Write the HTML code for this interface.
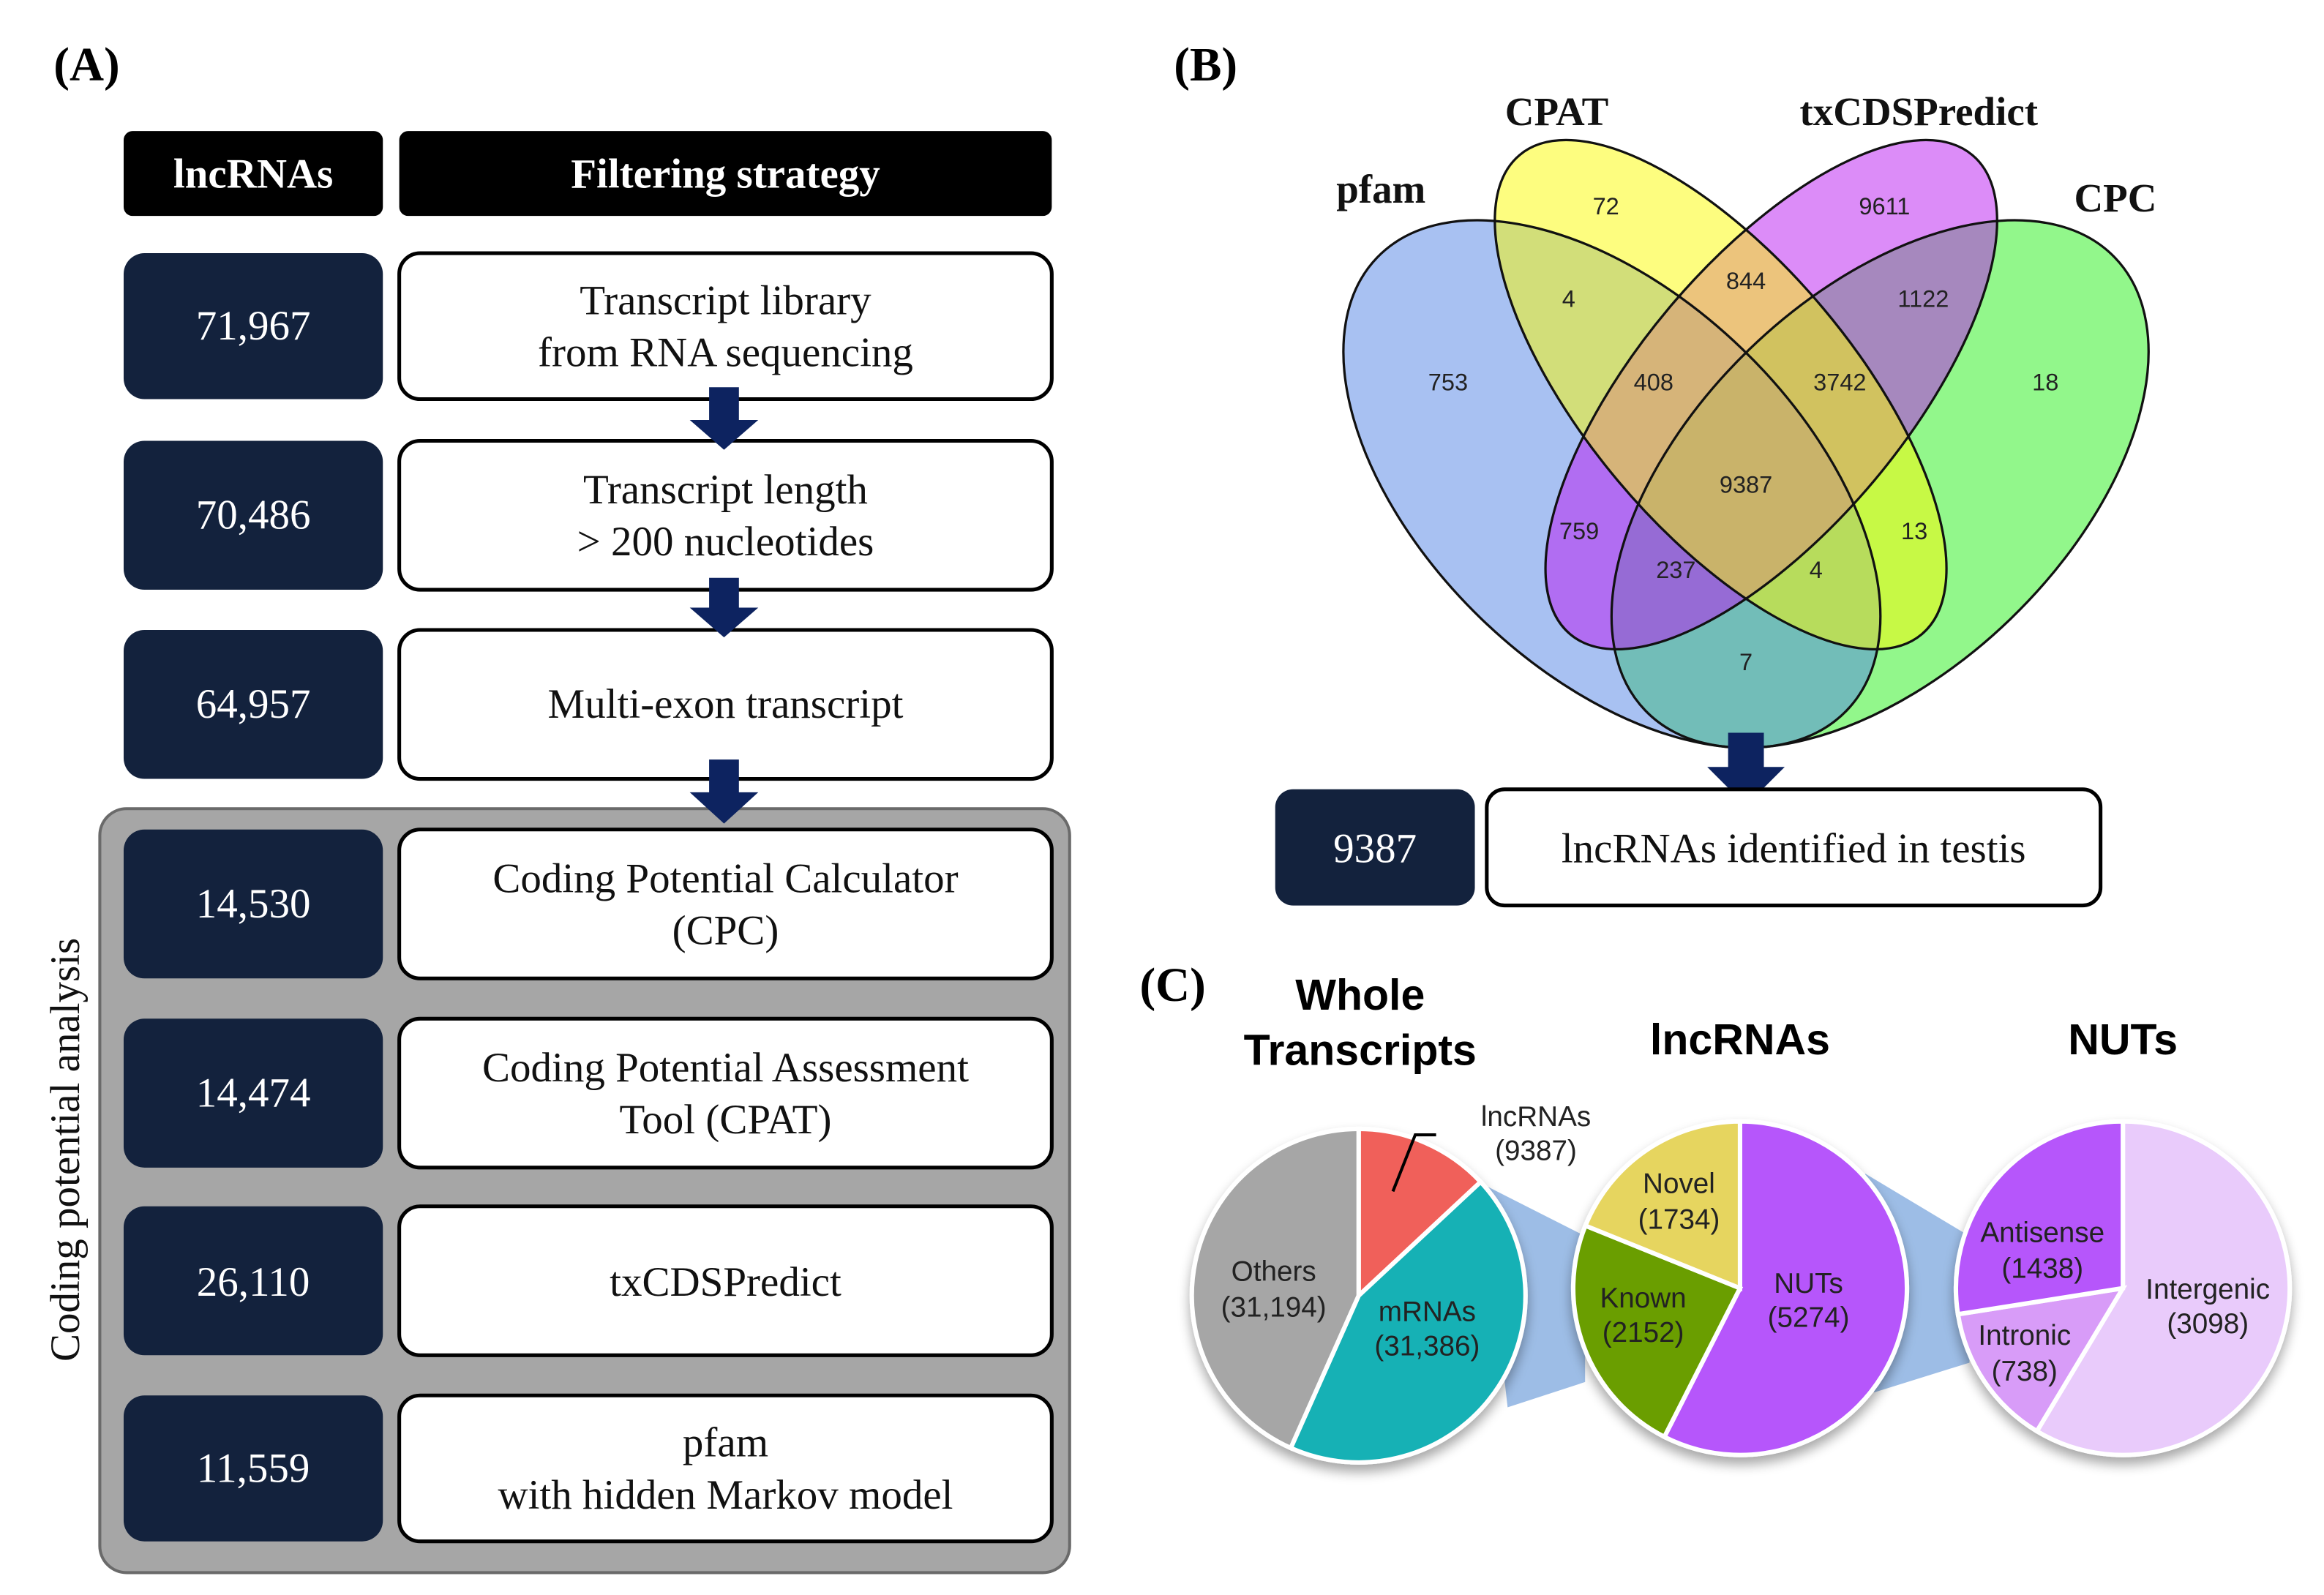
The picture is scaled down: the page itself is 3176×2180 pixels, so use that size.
<!DOCTYPE html>
<html><head><meta charset="utf-8"><style>html,body{margin:0;padding:0;background:#fff}svg{display:block}</style></head><body>
<svg width="3176" height="2180" viewBox="0 0 1560 1071" preserveAspectRatio="none" xmlns="http://www.w3.org/2000/svg">
<defs><filter id="sh" x="-20%" y="-20%" width="140%" height="140%"><feGaussianBlur in="SourceAlpha" stdDeviation="4"/><feOffset dy="5"/><feComponentTransfer><feFuncA type="linear" slope="0.35"/></feComponentTransfer><feMerge><feMergeNode/><feMergeNode in="SourceGraphic"/></feMerge></filter></defs>
<g font-family="Liberation Serif, serif">
<text x="36" y="54" font-size="32" font-weight="bold">(A)</text>
<text x="788" y="54" font-size="32" font-weight="bold">(B)</text>
<text x="765" y="672" font-size="32" font-weight="bold">(C)</text>
</g>
<!-- Panel A -->
<rect x="67" y="543" width="651" height="513" rx="18" fill="#a6a6a6" stroke="#6a6a6a" stroke-width="2"/>
<rect x="83" y="88" width="174" height="57" rx="6" fill="#000"/>
<rect x="268" y="88" width="438" height="57" rx="6" fill="#000"/>
<g font-family="Liberation Serif, serif" font-weight="bold" font-size="28" fill="#fff" text-anchor="middle">
<text x="170" y="126">lncRNAs</text><text x="487" y="126">Filtering strategy</text></g>
<g fill="#13223d">
<rect x="83" y="170" width="174" height="98" rx="14"/>
<rect x="83" y="296" width="174" height="100" rx="14"/>
<rect x="83" y="423" width="174" height="100" rx="14"/>
<rect x="83" y="557" width="174" height="100" rx="14"/>
<rect x="83" y="684" width="174" height="100" rx="14"/>
<rect x="83" y="810" width="174" height="100" rx="14"/>
<rect x="83" y="937" width="174" height="98" rx="14"/>
</g>
<g fill="#fff" stroke="#000" stroke-width="2.5">
<rect x="268" y="170" width="438" height="98" rx="14"/>
<rect x="268" y="296" width="438" height="100" rx="14"/>
<rect x="268" y="423" width="438" height="100" rx="14"/>
<rect x="268" y="557" width="438" height="100" rx="14"/>
<rect x="268" y="684" width="438" height="100" rx="14"/>
<rect x="268" y="810" width="438" height="100" rx="14"/>
<rect x="268" y="937" width="438" height="98" rx="14"/>
</g>
<g font-family="Liberation Serif, serif" font-size="28" fill="#fff" text-anchor="middle">
<text x="170" y="228">71,967</text><text x="170" y="355">70,486</text><text x="170" y="482">64,957</text>
<text x="170" y="616">14,530</text><text x="170" y="743">14,474</text><text x="170" y="870">26,110</text><text x="170" y="995">11,559</text>
</g>
<g font-family="Liberation Serif, serif" font-size="28" fill="#111" text-anchor="middle">
<text x="487" y="211">Transcript library</text><text x="487" y="246">from RNA sequencing</text>
<text x="487" y="338">Transcript length</text><text x="487" y="373">&gt; 200 nucleotides</text>
<text x="487" y="482">Multi-exon transcript</text>
<text x="487" y="599">Coding Potential Calculator</text><text x="487" y="634">(CPC)</text>
<text x="487" y="726">Coding Potential Assessment</text><text x="487" y="761">Tool (CPAT)</text>
<text x="487" y="870">txCDSPredict</text>
<text x="487" y="978">pfam</text><text x="487" y="1013">with hidden Markov model</text>
</g>
<text transform="translate(53,772) rotate(-90)" font-family="Liberation Serif, serif" font-size="28" text-anchor="middle" fill="#111">Coding potential analysis</text>
<g fill="#0d2360">
<polygon points="476,260 496,260 496,282 509,282 486,302 463,282 476,282"/>
<polygon points="476,388 496,388 496,408 509,408 486,428 463,408 476,408"/>
<polygon points="476,510 496,510 496,532 509,532 486,553 463,532 476,532"/>
</g>
<!-- Panel B -->
<g font-family="Liberation Serif, serif" font-weight="bold" font-size="27" fill="#111" text-anchor="middle">
<text x="1045" y="84">CPAT</text><text x="1288" y="84">txCDSPredict</text><text x="927" y="136">pfam</text><text x="1420" y="142">CPC</text></g>
<g fill-opacity="0.5">
<ellipse cx="1262" cy="325" rx="219" ry="126" transform="rotate(-44 1262 325)" fill="#26ef17"/>
<ellipse cx="1082" cy="325" rx="219" ry="126" transform="rotate(44 1082 325)" fill="#5284e6"/>
<ellipse cx="1189" cy="265" rx="210" ry="90" transform="rotate(-50 1189 265)" fill="#ba19f2"/>
<ellipse cx="1155" cy="265" rx="210" ry="90" transform="rotate(50 1155 265)" fill="#fbfb00"/>
</g>
<g stroke="#111" stroke-width="1.6" fill="none">
<ellipse cx="1262" cy="325" rx="219" ry="126" transform="rotate(-44 1262 325)"/>
<ellipse cx="1082" cy="325" rx="219" ry="126" transform="rotate(44 1082 325)"/>
<ellipse cx="1189" cy="265" rx="210" ry="90" transform="rotate(-50 1189 265)"/>
<ellipse cx="1155" cy="265" rx="210" ry="90" transform="rotate(50 1155 265)"/>
</g>
<g font-family="Liberation Sans, sans-serif" font-size="16" fill="#222" text-anchor="middle">
<text x="1078" y="144">72</text><text x="1265" y="144">9611</text><text x="1053" y="206">4</text><text x="1172" y="194">844</text><text x="1291" y="206">1122</text>
<text x="972" y="262">753</text><text x="1110" y="262">408</text><text x="1235" y="262">3742</text><text x="1373" y="262">18</text>
<text x="1172" y="331">9387</text><text x="1060" y="362">759</text><text x="1125" y="388">237</text><text x="1219" y="388">4</text><text x="1285" y="362">13</text><text x="1172" y="450">7</text>
</g>
<polygon points="1160,492 1184,492 1184,515 1198,515 1172,541 1146,515 1160,515" fill="#0d2360"/>
<rect x="856" y="530" width="134" height="78" rx="12" fill="#13223d"/>
<rect x="998" y="530" width="412" height="78" rx="12" fill="#fff" stroke="#000" stroke-width="2.5"/>
<text x="923" y="579" font-family="Liberation Serif, serif" font-size="28" fill="#fff" text-anchor="middle">9387</text>
<text x="1204" y="579" font-family="Liberation Serif, serif" font-size="28" fill="#111" text-anchor="middle">lncRNAs identified in testis</text>
<!-- Panel C -->
<g font-family="Liberation Sans, sans-serif" font-weight="bold" font-size="29" fill="#000" text-anchor="middle">
<text x="913" y="678">Whole</text><text x="913" y="715">Transcripts</text><text x="1168" y="708">lncRNAs</text><text x="1425" y="708">NUTs</text></g>
<polygon points="995,795 1064,830 1064,928 1012,945" fill="#9dbde6"/>
<polygon points="1252,788 1322,830 1322,915 1258,935" fill="#9dbde6"/>
<g stroke="#fff" stroke-width="3" filter="url(#sh)">
<g>
<path d="M912,870 L912,758 A112,112 0 0 1 993.9,793.6 Z" fill="#f0605a"/>
<path d="M912,870 L993.9,793.6 A112,112 0 0 1 866.4,972.3 Z" fill="#18b1b5"/>
<path d="M912,870 L866.4,972.3 A112,112 0 0 1 912,758 Z" fill="#a6a6a6"/>
</g>
<g>
<path d="M1168,865 L1168,753 A112,112 0 1 1 1117.2,964.8 Z" fill="#b656fb"/>
<path d="M1168,865 L1117.2,964.8 A112,112 0 0 1 1064.2,823 Z" fill="#6b9e00"/>
<path d="M1168,865 L1064.2,823 A112,112 0 0 1 1168,753 Z" fill="#e6d55e"/>
</g>
<g>
<path d="M1425,865 L1425,753 A112,112 0 1 1 1367.3,961 Z" fill="#e9cbfb"/>
<path d="M1425,865 L1367.3,961 A112,112 0 0 1 1314.3,882.5 Z" fill="#d89cf8"/>
<path d="M1425,865 L1314.3,882.5 A112,112 0 0 1 1425,753 Z" fill="#b656fb"/>
</g>
</g>
<polyline points="935,800 950,762 964,762" fill="none" stroke="#000" stroke-width="2"/>
<g font-family="Liberation Sans, sans-serif" font-size="19" fill="#222" text-anchor="middle">
<text x="1031" y="756">lncRNAs</text><text x="1031" y="779">(9387)</text>
<text x="855" y="860">Others</text><text x="855" y="884">(31,194)</text>
<text x="958" y="887">mRNAs</text><text x="958" y="910">(31,386)</text>
<text x="1127" y="801">Novel</text><text x="1127" y="825">(1734)</text>
<text x="1103" y="878">Known</text><text x="1103" y="901">(2152)</text>
<text x="1214" y="868">NUTs</text><text x="1214" y="891">(5274)</text>
<text x="1371" y="834">Antisense</text><text x="1371" y="858">(1438)</text>
<text x="1359" y="903">Intronic</text><text x="1359" y="927">(738)</text>
<text x="1482" y="872">Intergenic</text><text x="1482" y="895">(3098)</text>
</g>
</svg>
</body></html>
